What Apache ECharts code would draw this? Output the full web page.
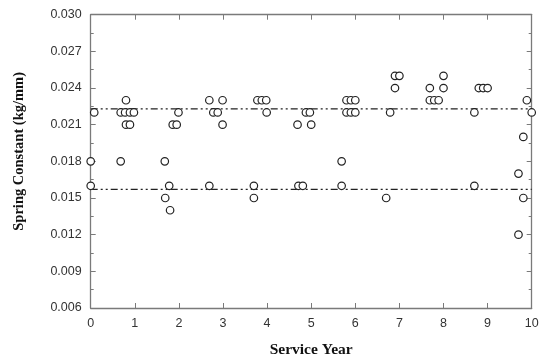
<!DOCTYPE html>
<html><head><meta charset="utf-8">
<script src="https://cdn.jsdelivr.net/npm/echarts@6/dist/echarts.min.js"></script>
<style>html,body{margin:0;padding:0;background:#fff}#c{width:544px;height:363px}</style>
</head><body><div id="c"></div>
<script>
var xYears = [0, 0, 0.08, 0.68, 0.68, 0.8, 0.8, 0.89, 0.78, 0.89, 0.98,
  1.68, 1.78, 1.69, 1.8, 1.86, 1.95, 1.99,
  2.69, 2.78, 2.88, 2.99, 2.99, 2.69,
  3.7, 3.7, 3.78, 3.88, 3.98, 3.99,
  4.69, 5.0, 4.88, 4.97, 4.71, 4.81,
  5.69, 5.69, 5.8, 5.9, 6.0, 5.8, 5.9, 6.0,
  6.7, 6.79, 6.9, 6.9, 7.0,
  7.69, 7.69, 7.79, 7.89, 8.0, 8.0,
  8.7, 8.7, 8.8, 8.9, 9.0,
  9.89, 10.0, 9.81, 9.7, 9.81, 9.7];
var springK = [0.018, 0.016, 0.022, 0.022, 0.018, 0.023, 0.021, 0.021, 0.022, 0.022, 0.022,
  0.018, 0.016, 0.015, 0.014, 0.021, 0.021, 0.022,
  0.023, 0.022, 0.022, 0.023, 0.021, 0.016,
  0.016, 0.015, 0.023, 0.023, 0.023, 0.022,
  0.021, 0.021, 0.022, 0.022, 0.016, 0.016,
  0.018, 0.016, 0.023, 0.023, 0.023, 0.022, 0.022, 0.022,
  0.015, 0.022, 0.024, 0.025, 0.025,
  0.024, 0.023, 0.023, 0.023, 0.024, 0.025,
  0.022, 0.016, 0.024, 0.024, 0.024,
  0.023, 0.022, 0.020, 0.017, 0.015, 0.012];
var refLevels = [0.0223, 0.0157];
var xRange = [0, 10];

var pts = xYears.map(function(x, i){ return [x, springK[i]]; });
var axisCol = '#7a7a7a';
var lblStyle = {color:'#333', fontFamily:'Liberation Sans, Arial, sans-serif', fontSize:12.5};
var serif = 'Liberation Serif, Times New Roman, serif';
var chart = echarts.init(document.getElementById('c'), null, {renderer:'canvas'});
var series = [{
  type:'scatter', data: pts, symbol:'circle', symbolSize:7.5, clip:false,
  itemStyle:{color:'#ffffff', borderColor:'#222222', borderWidth:1.2, opacity:1}, z:3
}];
refLevels.forEach(function(v){
  series.push({type:'line', data:[[xRange[0], v],[xRange[1], v]], symbol:'none', clip:false,
    lineStyle:{color:'#222', width:1.3, type:[7,3,2,3,2,3]}, z:2});
});
chart.setOption({
  animation:false,
  grid:{left:90.7, right:12.3, top:14.7, bottom:52.3},
  xAxis:[{
    type:'value', min:0, max:10, interval:1, position:'bottom',
    name:'Service Year', nameLocation:'middle', nameGap:34,
    nameTextStyle:{color:'#111', fontFamily:serif, fontWeight:'bold', fontSize:15.5},
    axisLine:{show:true, lineStyle:{color:axisCol, width:1.3}},
    axisTick:{show:true, inside:true, length:5, lineStyle:{color:axisCol}},
    axisLabel:{margin:9, ...lblStyle},
    splitLine:{show:false}
  },{
    type:'value', min:0, max:10, interval:1, position:'top',
    axisLine:{show:true, onZero:false, lineStyle:{color:axisCol, width:1.3}},
    axisTick:{show:true, inside:true, length:5, lineStyle:{color:axisCol}},
    axisLabel:{show:false}, splitLine:{show:false}
  }],
  yAxis:[{
    type:'value', min:0.006, max:0.030, interval:0.003, position:'left',
    name:'Spring Constant (kg/mm)', nameLocation:'middle', nameGap:64,
    nameTextStyle:{color:'#111', fontFamily:serif, fontWeight:'bold', fontSize:14.5, padding:[0,0,0,20]},
    axisLine:{show:true, lineStyle:{color:axisCol, width:1.3}},
    axisTick:{show:true, inside:true, length:5, lineStyle:{color:axisCol}},
    minorTick:{show:true, splitNumber:2, length:3, lineStyle:{color:axisCol}},
    axisLabel:{margin:9, formatter:function(v){ return v.toFixed(3); }, ...lblStyle},
    splitLine:{show:false}
  },{
    type:'value', min:0.006, max:0.030, interval:0.003, position:'right',
    axisLine:{show:true, onZero:false, lineStyle:{color:axisCol, width:1.3}},
    axisTick:{show:true, inside:true, length:5, lineStyle:{color:axisCol}},
    minorTick:{show:true, splitNumber:2, length:3, lineStyle:{color:axisCol}},
    axisLabel:{show:false}, splitLine:{show:false}
  }],
  series: series
});
</script></body></html>
